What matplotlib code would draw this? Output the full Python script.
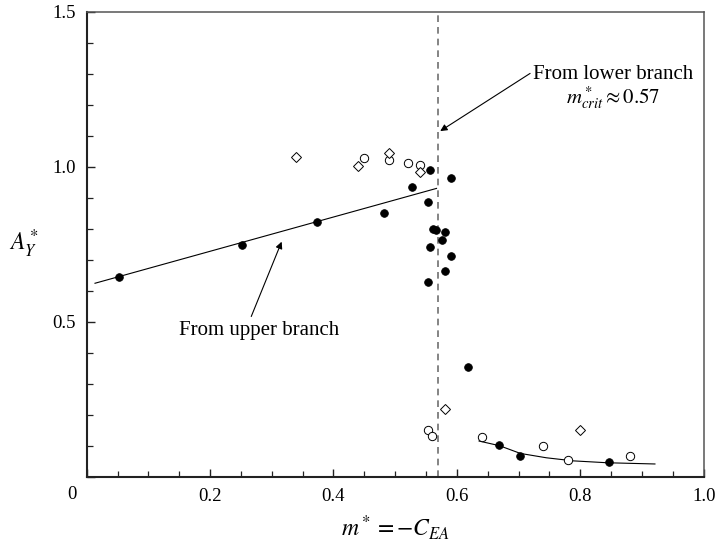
import numpy as np
import matplotlib
matplotlib.use("Agg")
import matplotlib.pyplot as plt
from matplotlib.ticker import MultipleLocator

plt.rcParams['font.family'] = ['Liberation Serif', 'DejaVu Serif']
plt.rcParams['mathtext.fontset'] = 'stix'

# filled circles
x_fill = [0.053, 0.252, 0.373, 0.482, 0.528, 0.556, 0.591, 0.554, 0.562, 0.566,
          0.581, 0.576, 0.557, 0.591, 0.580, 0.553, 0.618, 0.669, 0.703, 0.846]
y_fill = [0.645, 0.747, 0.821, 0.850, 0.935, 0.989, 0.963, 0.887, 0.799, 0.796,
          0.790, 0.763, 0.742, 0.712, 0.663, 0.627, 0.355, 0.101, 0.068, 0.047]

# open circles
x_open = [0.450, 0.490, 0.520, 0.540, 0.553, 0.560, 0.640, 0.740, 0.780, 0.880]
y_open = [1.027, 1.022, 1.013, 1.005, 0.152, 0.130, 0.127, 0.099, 0.054, 0.067]

# open diamonds
x_diam = [0.340, 0.440, 0.490, 0.540, 0.580, 0.800]
y_diam = [1.030, 1.002, 1.043, 0.984, 0.219, 0.150]

# fitted trend on the upper branch
x_upfit = [0.0135, 0.567]
y_upfit = [0.624, 0.930]

# fitted decay on the lower branch
x_lowfit = [0.636, 0.669, 0.703, 0.745, 0.789, 0.843, 0.921]
y_lowfit = [0.115, 0.100, 0.075, 0.061, 0.051, 0.045, 0.041]

m_crit = 0.57

fig = plt.figure(figsize=(7.21, 5.42), dpi=100)
ax = fig.add_axes([0.1202, 0.1205, 0.8558, 0.8579])

ax.plot(x_upfit, y_upfit, color='black', lw=0.8)
ax.plot(x_lowfit, y_lowfit, color='black', lw=0.8)
ax.axvline(m_crit, color='#707070', lw=1.2, dashes=(4, 3))

ax.plot(x_fill, y_fill, 'o', ms=5.5, mfc='black', mec='black', mew=0.6)
ax.plot(x_open, y_open, 'o', ms=6.0, mfc='white', mec='black', mew=0.7)
ax.plot(x_diam, y_diam, 'D', ms=5.2, mfc='white', mec='black', mew=0.7)

ax.annotate('From upper branch', xy=(0.316, 0.758), xytext=(0.279, 0.473),
            ha='center', va='center', fontsize=15,
            arrowprops=dict(arrowstyle='-|>', color='black', lw=0.8,
                            mutation_scale=10, shrinkA=1, shrinkB=0,
                            relpos=(0.44, 0.95)))
ax.annotate('From lower branch\n$m^*_{crit} \\approx 0.57$',
            xy=(0.573, 1.115), xytext=(0.853, 1.255),
            ha='center', va='center', fontsize=15, linespacing=1.0,
            arrowprops=dict(arrowstyle='-|>', color='black', lw=0.8,
                            mutation_scale=10, shrinkA=0, shrinkB=0,
                            relpos=(0.0, 0.85)))

ax.set_xlim(0, 1.0)
ax.set_ylim(0, 1.5)
ax.xaxis.set_minor_locator(MultipleLocator(0.05))
ax.yaxis.set_minor_locator(MultipleLocator(0.1))
ax.set_xticks([0, 0.2, 0.4, 0.6, 0.8, 1.0])
ax.set_xticklabels(['', '0.2', '0.4', '0.6', '0.8', '1.0'])
ax.set_yticks([0, 0.5, 1.0, 1.5])
ax.set_yticklabels(['', '0.5', '1.0', '1.5'])
ax.text(-0.024, -0.057, '0', ha='center', va='center', fontsize=13.5)

ax.tick_params(which='both', direction='in', top=False, right=False,
               labelsize=13.5, color='#222222')
ax.tick_params(which='major', length=6, width=1.0, pad=8)
ax.tick_params(which='minor', length=4.3, width=0.9)

for side in ('left', 'bottom'):
    ax.spines[side].set_linewidth(1.5)
    ax.spines[side].set_color('#222222')
for side in ('top', 'right'):
    ax.spines[side].set_linewidth(1.1)
    ax.spines[side].set_color('#555555')

ax.set_xlabel('$m^* = -C_{EA}$', fontsize=17, labelpad=6)
ax.set_ylabel('$A_Y^*$', fontsize=17, rotation=0, va='center', ha='center')
ax.yaxis.set_label_coords(-0.102, 0.5)

fig.savefig('out.png', dpi=100)
